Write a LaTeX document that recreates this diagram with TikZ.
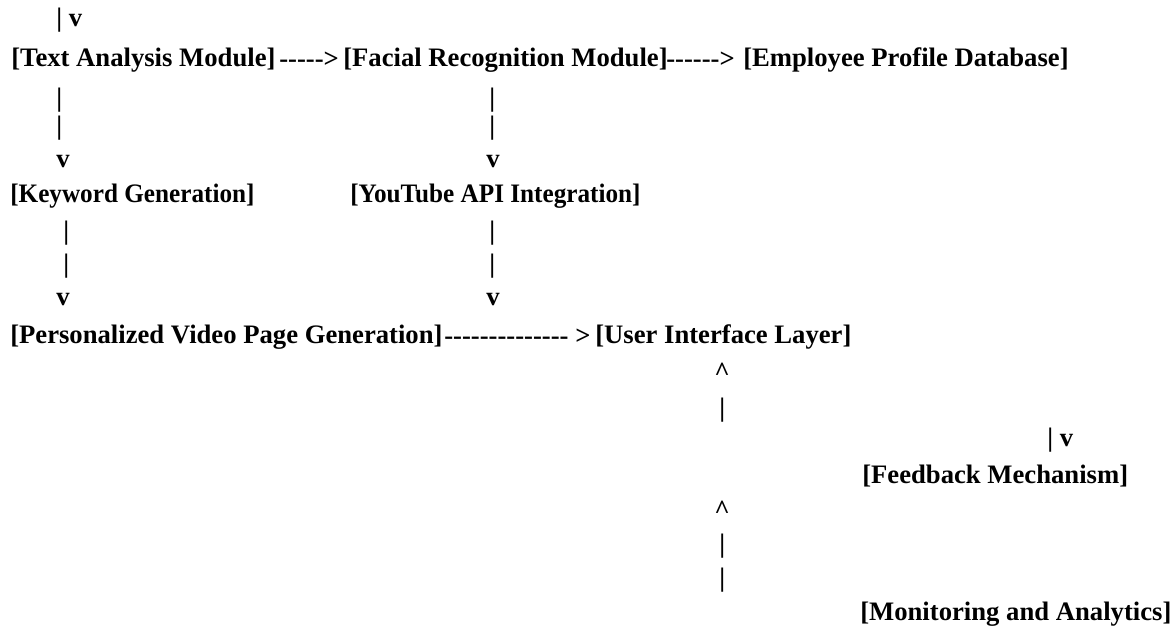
\documentclass[tikz,border=0pt]{standalone}
\usepackage{graphicx}
\usepackage{fontspec}
\setmainfont[Ligatures=TeXOff]{Liberation Serif}
\tikzstyle{txt}=[anchor=west,inner sep=0pt,font=\bfseries\fontsize{20}{24}\selectfont]
\tikzstyle{block}=[txt]
\tikzstyle{link}=[txt]
\newcommand{\narrow}[1]{\scalebox{0.945}[1]{#1}}

\begin{document}
\begin{tikzpicture}[x=0.75pt,y=-0.75pt]
\useasboundingbox (0,0) rectangle (1173,634);
% 1st row
\node[link] (in_1)  at (56,20)  {| v};
\node[block] (tam)  at (11,60)  {[Text Analysis Module]};
\node[link] (a_1)   at (279,60) {----->};
\node[block] (frm)  at (343,60) {[Facial Recognition Module]};
\node[link] (a_2)   at (666,60) {------>};
\node[block] (epd)  at (743,60) {[Employee Profile Database]};
% 2nd row
\node[link] (b_1)   at (56,100)  {|};
\node[link] (b_2)   at (56,128)  {|};
\node[link] (b_3)   at (56,162)  {v};
\node[link] (c_1)   at (489,100) {|};
\node[link] (c_2)   at (489,128) {|};
\node[link] (c_3)   at (486,162) {v};
\node[block] (kwg)  at (10,196)  {\narrow{[Keyword Generation]}};
\node[block] (yti)  at (350,196) {\narrow{[YouTube API Integration]}};
% 3rd row
\node[link] (d_1)   at (63,233)  {|};
\node[link] (d_2)   at (63,266)  {|};
\node[link] (d_3)   at (56,300)  {v};
\node[link] (e_1)   at (489,233) {|};
\node[link] (e_2)   at (489,266) {|};
\node[link] (e_3)   at (486,300) {v};
\node[block] (pvg)  at (10,337)  {[Personalized Video Page Generation]};
\node[link] (a_3)   at (444,337) {-------------- >};
\node[block] (uil)  at (595,337) {[User Interface Layer]};
% 4th row
\node[link] (f_1)   at (714,372) {\textasciicircum};
\node[link] (f_2)   at (719,410) {|};
\node[link] (g_1)   at (1047,440) {| v};
\node[block] (fbm)  at (862,476) {[Feedback Mechanism]};
% 5th row
\node[link] (h_1)   at (714,510) {\textasciicircum};
\node[link] (h_2)   at (719,546) {|};
\node[link] (h_3)   at (719,580) {|};
\node[block] (mna)  at (860,614) {[Monitoring and Analytics]};
\end{tikzpicture}
\end{document}
